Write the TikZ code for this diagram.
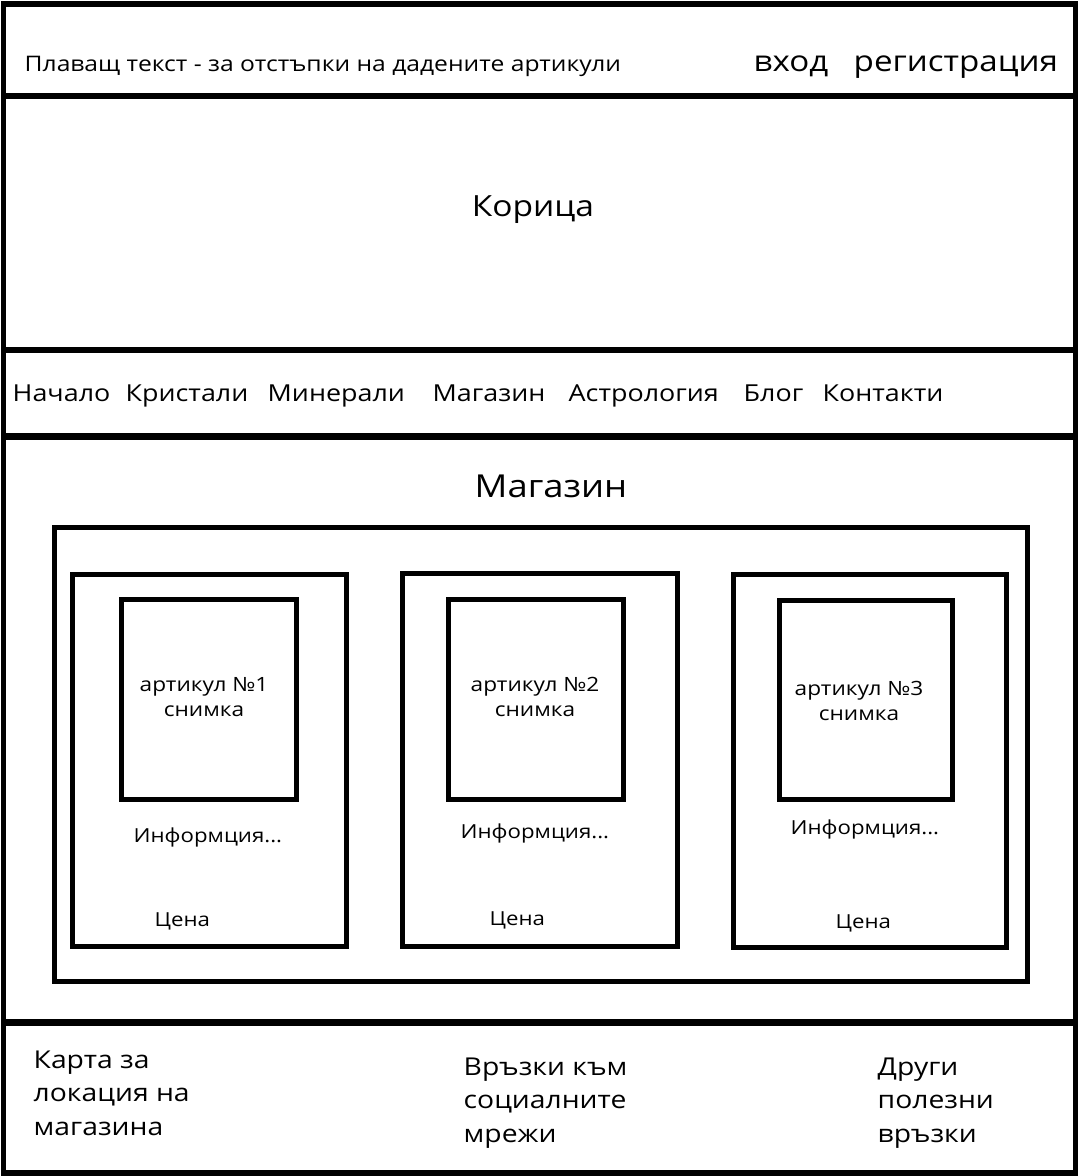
\documentclass[tikz,border=0pt]{standalone}
\usepackage{fontspec}
\setmainfont{Open Sans}[FakeStretch=1.15]
\begin{document}
\begin{tikzpicture}[x=0.1mm,y=-0.1mm,
    frame/.style={line width=0.6mm},
    band/.style={line width=0.65mm},
    box/.style={line width=0.5mm},
    txt/.style={inner sep=0pt,font=\fontsize{#1}{#1}\selectfont}]
  \useasboundingbox (0,0) rectangle (1078,1176);
  % page frame and bands
  \draw[frame] (3.5,3.5) rectangle (1075.5,1173);
  \foreach \y in {96,350,436.5,1022.5}
    \draw[band] (3.5,\y) -- (1075.5,\y);
  % top bar
  \node[txt=6.1pt,anchor=base west] (promo) at (24,71) {Плаващ текст - за отстъпки на дадените артикули};
  \node[txt=8.2pt,anchor=base west] (login) at (753,71) {вход};
  \node[txt=8.2pt,anchor=base west] (register) at (853,71) {регистрация};
  % cover
  \node[txt=8.3pt,anchor=base] (cover) at (533,216) {Корица};
  % menu
  \foreach \x/\t [count=\i] in {12/Начало,125/Кристали,267/Минерали,432/Магазин,568/Астрология,743/Блог,822/Контакти}
    \node[txt=6.65pt,anchor=base west] (nav\i) at (\x,401) {\t};
  % shop
  \node[txt=9pt,anchor=base] (shop) at (551,497) {Магазин};
  \draw[box] (54,527) rectangle (1027,981);
  %\draw[help lines] (0,0) grid (1078,1176);
  \draw[box] (72,574) rectangle (346,946);
  \draw[box] (121,599) rectangle (296,799);
  \draw[box] (402,573) rectangle (677,946);
  \draw[box] (448,599) rectangle (623,799);
  \draw[box] (733,574) rectangle (1006,947);
  \draw[box] (779,600) rectangle (952,799);
  \node[txt=5.6pt,anchor=base,align=center] (item1) at (204,716) {артикул №1\\[1.4pt]снимка};
  \node[txt=5.6pt,anchor=base,align=center] (item2) at (535,716) {артикул №2\\[1.4pt]снимка};
  \node[txt=5.6pt,anchor=base,align=center] (item3) at (859,720) {артикул №3\\[1.4pt]снимка};
  \node[txt=5.5pt,anchor=base west] (info1) at (133,842) {Информция...};
  \node[txt=5.5pt,anchor=base west] (info2) at (460,838) {Информция...};
  \node[txt=5.5pt,anchor=base west] (info3) at (790,834) {Информция...};
  \node[txt=5.5pt,anchor=base west] (price1) at (154,926) {Цена};
  \node[txt=5.5pt,anchor=base west] (price2) at (489,925) {Цена};
  \node[txt=5.5pt,anchor=base west] (price3) at (835,928) {Цена};
  % footer
  \node[txt=7pt,anchor=base west,align=left] (map) at (33,1135) {Карта за\\[2.4pt]локация на\\[2.4pt]магазина};
  \node[txt=7pt,anchor=base west,align=left] (social) at (463,1142) {Връзки към\\[2.4pt]социалните\\[2.4pt]мрежи};
  \node[txt=7pt,anchor=base west,align=left] (links) at (877,1142) {Други\\[2.4pt]полезни\\[2.4pt]връзки};
\end{tikzpicture}
\end{document}
